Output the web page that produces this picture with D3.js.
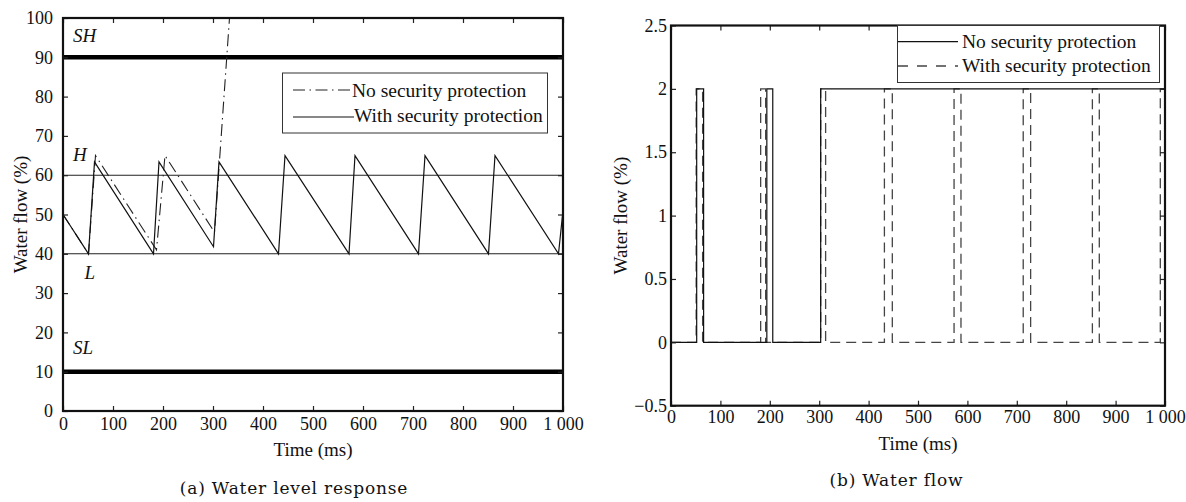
<!DOCTYPE html>
<html>
<head>
<meta charset="utf-8">
<script src="https://cdn.jsdelivr.net/npm/d3@7"></script>
<style>
  body { margin: 0; background: #fff; }
  text { font-family: "Liberation Serif", "Times New Roman", serif; fill: #111; }
  .caption { font-family: "DejaVu Serif", serif; letter-spacing: 0.8px; }
</style>
</head>
<body>
<div id="chart"></div>
<script>
// ---- data ----
const timeTicks = [0, 100, 200, 300, 400, 500, 600, 700, 800, 900, 1000];
const levelTicks = [0, 10, 20, 30, 40, 50, 60, 70, 80, 90, 100];
const flowTicks = [-0.5, 0, 0.5, 1, 1.5, 2, 2.5];

// (a) water level, %
const levelWithTime = [0, 51, 63, 181, 192, 301, 312, 431, 444, 572, 584, 711, 724, 851, 864, 991, 1000];
const levelWith = [50, 40, 63.4, 40, 63.4, 41.8, 63.4, 40, 65, 40, 65, 40, 65, 40, 65, 40, 51];
const levelNoTime = [0, 51, 65, 187, 204, 303, 333];
const levelNo = [50, 40, 65, 41, 65, 45.5, 100];

const safetyLimits = [90, 10];   // SH, SL (thick)
const controlLimits = [60, 40];  // H, L (thin)
const limitNames = ["SH", "H", "L", "SL"];
const limitNameTime = [20, 20, 43, 20];
const limitNameLevel = [94, 63.5, 33.5, 14.5];

// (b) water flow, step signals
const flowNoTime = [0, 52, 66, 194, 206, 303, 1000];
const flowNo = [0, 2, 0, 2, 0, 2, 2];
const flowWithTime = [0, 51, 64, 181.5, 191.6, 303, 313, 432, 448, 573, 587, 713, 728, 853, 867, 990.5, 1000];
const flowWith = [0, 2, 0, 2, 0, 2, 0, 2, 0, 2, 0, 2, 0, 2, 0, 2, 2];

const legendA = ["No security protection", "With security protection"];
const legendB = ["No security protection", "With security protection"];

// ---- layout ----
const width = 1186, height = 502;
const A = { left: 63, right: 563, top: 18, bottom: 411 };
const B = { left: 671, right: 1165, top: 25.5, bottom: 405.7 };
const dashDot = "12,4.5,1.5,4.5";

const svg = d3.select("#chart").append("svg")
  .attr("width", width).attr("height", height);
svg.append("rect").attr("width", width).attr("height", height).attr("fill", "#fff");

const fmtTime = d => d === 1000 ? "1 000" : d;

function frame(p, x, y, xt, yt, yFmt, yPad, xPad) {
  const g = svg.append("g");
  const ax = [
    { a: d3.axisBottom(x).tickValues(xt).tickFormat(fmtTime).tickPadding(xPad), t: `translate(0,${p.bottom})` },
    { a: d3.axisTop(x).tickValues(xt).tickFormat(""), t: `translate(0,${p.top})` },
    { a: d3.axisLeft(y).tickValues(yt).tickFormat(yFmt).tickPadding(yPad), t: `translate(${p.left},0)` },
    { a: d3.axisRight(y).tickValues(yt).tickFormat(""), t: `translate(${p.right},0)` }
  ];
  ax.forEach(o => {
    const s = g.append("g").attr("transform", o.t)
      .call(o.a.tickSizeInner(-5).tickSizeOuter(0));
    s.select(".domain").remove();
    s.selectAll("line").attr("stroke", "#222").attr("stroke-width", 1.2);
    s.selectAll("text").attr("font-size", 18).attr("fill", "#111");
  });
  g.append("rect")
    .attr("x", p.left).attr("y", p.top)
    .attr("width", p.right - p.left).attr("height", p.bottom - p.top)
    .attr("fill", "none").attr("stroke", "#111").attr("stroke-width", 2.2);
  return g;
}

// ================= (a) =================
const xA = d3.scaleLinear().domain([0, 1000]).range([A.left, A.right]);
const yA = d3.scaleLinear().domain([0, 100]).range([A.bottom, A.top]);

svg.append("clipPath").attr("id", "clipA").append("rect")
  .attr("x", A.left).attr("y", A.top).attr("width", A.right - A.left).attr("height", A.bottom - A.top);

const plotA = svg.append("g").attr("clip-path", "url(#clipA)");

plotA.selectAll(".safe").data(safetyLimits).join("line")
  .attr("x1", A.left).attr("x2", A.right)
  .attr("y1", d => yA(d)).attr("y2", d => yA(d))
  .attr("stroke", "#000").attr("stroke-width", 4.5);

plotA.selectAll(".ctrl").data(controlLimits).join("line")
  .attr("x1", A.left).attr("x2", A.right)
  .attr("y1", d => yA(d)).attr("y2", d => yA(d))
  .attr("stroke", "#222").attr("stroke-width", 1.1);

const lineA = d3.line().x(d => xA(d[0])).y(d => yA(d[1]));

plotA.append("path")
  .datum(levelNoTime.map((t, i) => [t, levelNo[i]]))
  .attr("d", lineA).attr("fill", "none")
  .attr("stroke", "#222").attr("stroke-width", 1.1)
  .attr("stroke-dasharray", dashDot);

plotA.append("path")
  .datum(levelWithTime.map((t, i) => [t, levelWith[i]]))
  .attr("d", lineA).attr("fill", "none")
  .attr("stroke", "#111").attr("stroke-width", 1.2);

svg.selectAll(".lim").data(limitNames).join("text")
  .attr("x", (d, i) => xA(limitNameTime[i]))
  .attr("y", (d, i) => yA(limitNameLevel[i]))
  .attr("font-size", 19).attr("font-style", "italic")
  .text(d => d);

frame(A, xA, yA, timeTicks, levelTicks, d => d, 10, 6);

// legend (a)
const legA = svg.append("g");
legA.append("rect").attr("x", 282.5).attr("y", 73).attr("width", 265).attr("height", 60)
  .attr("fill", "#fff").attr("stroke", "#333").attr("stroke-width", 1);
legA.append("line").attr("x1", 293).attr("x2", 350).attr("y1", 90).attr("y2", 90)
  .attr("stroke", "#222").attr("stroke-width", 1.1).attr("stroke-dasharray", dashDot);
legA.append("line").attr("x1", 293).attr("x2", 354).attr("y1", 117).attr("y2", 117)
  .attr("stroke", "#111").attr("stroke-width", 1.2);
legA.selectAll("text").data(legendA).join("text")
  .attr("x", (d, i) => i === 0 ? 352 : 354)
  .attr("y", (d, i) => i === 0 ? 97 : 122)
  .attr("font-size", 19.5).text(d => d);

svg.append("text").attr("x", (A.left + A.right) / 2).attr("y", 456)
  .attr("text-anchor", "middle").attr("font-size", 19).text("Time (ms)");
svg.append("text").attr("transform", `translate(20,${(A.top + A.bottom) / 2}) rotate(-90)`)
  .attr("text-anchor", "middle").attr("dy", "0.35em").attr("font-size", 19).text("Water flow (%)");
svg.append("text").attr("class", "caption").attr("x", 294).attr("y", 494)
  .attr("text-anchor", "middle").attr("font-size", 17).text("(a) Water level response");

// ================= (b) =================
const xB = d3.scaleLinear().domain([0, 1000]).range([B.left, B.right]);
const yB = d3.scaleLinear().domain([-0.5, 2.5]).range([B.bottom, B.top]);

const stepB = d3.line().curve(d3.curveStepAfter).x(d => xB(d[0])).y(d => yB(d[1]));

svg.append("path")
  .datum(flowWithTime.map((t, i) => [t, flowWith[i]]))
  .attr("d", stepB).attr("fill", "none")
  .attr("stroke", "#444").attr("stroke-width", 1.3)
  .attr("stroke-dasharray", "10,6");

svg.append("path")
  .datum(flowNoTime.map((t, i) => [t, flowNo[i]]))
  .attr("d", stepB).attr("fill", "none")
  .attr("stroke", "#111").attr("stroke-width", 1.2);

frame(B, xB, yB, timeTicks, flowTicks, d => d3.format("")(d), 4, 5);

// legend (b)
const legB = svg.append("g");
legB.append("rect").attr("x", 897.5).attr("y", 25.5).attr("width", 262).attr("height", 57)
  .attr("fill", "#fff").attr("stroke", "#333").attr("stroke-width", 1);
legB.append("line").attr("x1", 898).attr("x2", 958).attr("y1", 41.7).attr("y2", 41.7)
  .attr("stroke", "#111").attr("stroke-width", 1.2);
legB.append("line").attr("x1", 898).attr("x2", 958).attr("y1", 66).attr("y2", 66)
  .attr("stroke", "#444").attr("stroke-width", 1.3).attr("stroke-dasharray", "10,9");
legB.selectAll("text").data(legendB).join("text")
  .attr("x", 962)
  .attr("y", (d, i) => i === 0 ? 48 : 72)
  .attr("font-size", 19.5).text(d => d);

svg.append("text").attr("x", (B.left + B.right) / 2).attr("y", 450)
  .attr("text-anchor", "middle").attr("font-size", 19).text("Time (ms)");
svg.append("text").attr("transform", `translate(620,${(B.top + B.bottom) / 2}) rotate(-90)`)
  .attr("text-anchor", "middle").attr("dy", "0.35em").attr("font-size", 19).text("Water flow (%)");
svg.append("text").attr("class", "caption").attr("x", 896.5).attr("y", 486)
  .attr("text-anchor", "middle").attr("font-size", 17).text("(b) Water flow");
</script>
</body>
</html>
